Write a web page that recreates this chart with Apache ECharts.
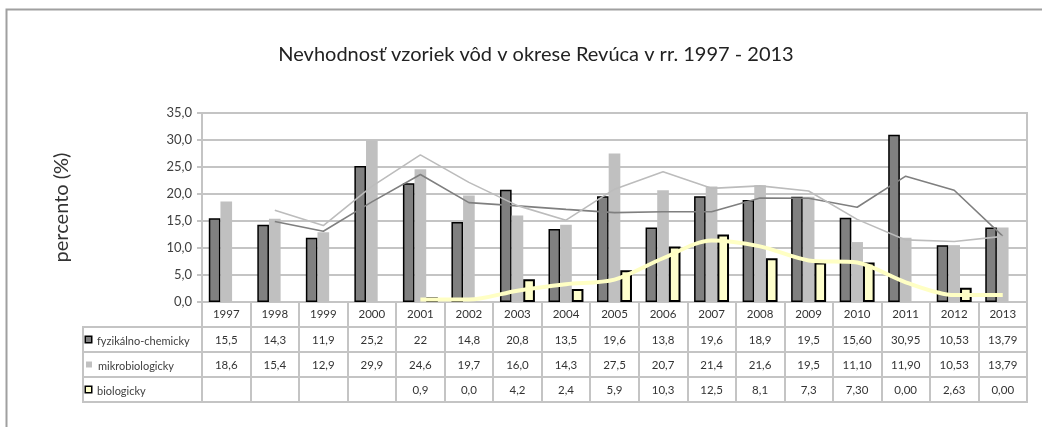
<!DOCTYPE html>
<html lang="sk">
<head>
    <meta charset="UTF-8">
    <title>Nevhodnosť vzoriek vôd</title>
    <script src="https://cdn.jsdelivr.net/npm/echarts@6/dist/echarts.min.js"></script>
    <style>
        html, body { margin: 0; padding: 0; background: #fff; }
        #chart { width: 1042px; height: 427px; }
    </style>
</head>
<body>
<div id="chart"></div>
<script>
    var years = ['1997', '1998', '1999', '2000', '2001', '2002', '2003', '2004', '2005',
        '2006', '2007', '2008', '2009', '2010', '2011', '2012', '2013'];
    var rowNames = ['fyzikálno-chemicky', 'mikrobiologicky', 'biologicky'];

    // hodnoty stlpcov
    var fyzData = [15.5, 14.3, 11.9, 25.2, 22, 14.8, 20.8, 13.5, 19.6, 13.8, 19.6, 18.9, 19.5, 15.6, 30.95, 10.53, 13.79];
    var mikroData = [18.6, 15.4, 12.9, 29.9, 24.6, 19.7, 16.0, 14.3, 27.5, 20.7, 21.4, 21.6, 19.5, 11.1, 11.9, 10.53, 13.79];
    var bioData = [null, null, null, null, 0.9, 0.0, 4.2, 2.4, 5.9, 10.3, 12.5, 8.1, 7.3, 7.3, 0.0, 2.63, 0.0];

    // trendove ciary (klzavy priemer), odcitane z grafu
    var fyzTrend = [null, 14.9, 13.1, 18.55, 23.6, 18.4, 17.8, 17.15, 16.55, 16.7, 16.7, 19.25, 19.2, 17.55, 23.3, 20.7, 12.2];
    var mikroTrend = [null, 17.0, 14.15, 21.4, 27.25, 22.15, 17.85, 15.15, 20.9, 24.1, 21.05, 21.5, 20.55, 15.3, 11.5, 11.2, 12.15];
    var bioTrend = [null, null, null, null, 0.45, 0.45, 2.1, 3.3, 4.15, 8.1, 11.4, 10.3, 7.7, 7.3, 3.65, 1.3, 1.3];

    // texty tabulky
    var fyzText = ['15,5', '14,3', '11,9', '25,2', '22', '14,8', '20,8', '13,5', '19,6', '13,8', '19,6', '18,9', '19,5', '15,60', '30,95', '10,53', '13,79'];
    var mikroText = ['18,6', '15,4', '12,9', '29,9', '24,6', '19,7', '16,0', '14,3', '27,5', '20,7', '21,4', '21,6', '19,5', '11,10', '11,90', '10,53', '13,79'];
    var bioText = ['', '', '', '', '0,9', '0,0', '4,2', '2,4', '5,9', '10,3', '12,5', '8,1', '7,3', '7,30', '0,00', '2,63', '0,00'];

    var font = 'Lato, "Noto Sans", sans-serif';
    var gridColor = '#c4c4c4';

    var tableRows = [years, fyzText, mikroText, bioText];
    var cells = [];
    var cellText = [];
    for (var r = 0; r < tableRows.length; r++) {
        for (var c = 0; c < years.length; c++) {
            cells.push([c, r]);
            cellText.push(tableRows[r][c]);
        }
    }

    // nulove stlpce bez okraja (v povodnom grafe nie su vidiet)
    var bioItems = bioData.map(function (v) {
        return v === 0 ? { value: v, itemStyle: { borderWidth: 0 } } : v;
    });

    var myChart = echarts.init(document.getElementById('chart'));
    var option = {
        animation: false,
        title: {
            text: 'Nevhodnosť vzoriek vôd v okrese Revúca v rr. 1997 - 2013',
            left: 531,
            top: 40,
            textAlign: 'center',
            textStyle: { fontFamily: font, fontSize: 20, fontWeight: 'normal', color: '#222' }
        },
        graphic: [{
            type: 'rect',
            silent: true,
            shape: { x: 6.5, y: 9.5, width: 1200, height: 600 },
            style: { fill: 'none', stroke: '#a0a0a0', lineWidth: 2 }
        }],
        grid: [
            { left: 202, right: 15, top: 113, height: 189, show: true, borderColor: gridColor, borderWidth: 2 },
            { left: 202, right: 15, top: 302, height: 100, show: true, borderColor: gridColor, borderWidth: 2 },
            { left: 83, width: 119, top: 327, height: 75, show: true, borderColor: gridColor, borderWidth: 2 }
        ],
        xAxis: [
            {
                gridIndex: 0, type: 'category', data: years,
                axisLine: { lineStyle: { color: gridColor, width: 2 } },
                axisTick: { show: false }, axisLabel: { show: false }
            },
            {
                gridIndex: 1, type: 'category', data: years,
                axisLine: { show: false }, axisTick: { show: false }, axisLabel: { show: false },
                splitLine: { show: true, interval: 0, lineStyle: { color: gridColor, width: 2 } }
            },
            {
                gridIndex: 2, type: 'category', data: [''],
                axisLine: { show: false }, axisTick: { show: false }, axisLabel: { show: false }
            }
        ],
        yAxis: [
            {
                gridIndex: 0, type: 'value', min: 0, max: 35, interval: 5,
                name: 'percento (%)', nameLocation: 'middle', nameRotate: 90, nameGap: 130,
                nameTextStyle: { fontFamily: font, fontSize: 20, color: '#333' },
                axisLine: { show: true, lineStyle: { color: gridColor, width: 2 } },
                axisTick: { show: true, length: 5, lineStyle: { color: gridColor, width: 2 } },
                axisLabel: {
                    margin: 10, fontFamily: font, fontSize: 13, color: '#404040',
                    formatter: function (v) { return v.toFixed(1).replace('.', ','); }
                },
                splitLine: { lineStyle: { color: gridColor, width: 2 } }
            },
            {
                gridIndex: 1, type: 'category', inverse: true, data: ['r', 'f', 'm', 'b'],
                axisLine: { show: false }, axisTick: { show: false }, axisLabel: { show: false },
                splitLine: { show: true, interval: 0, lineStyle: { color: gridColor, width: 2 } }
            },
            {
                gridIndex: 2, type: 'category', inverse: true, data: rowNames,
                axisLine: { show: false }, axisTick: { show: false },
                splitLine: { show: true, interval: 0, lineStyle: { color: gridColor, width: 2 } },
                axisLabel: {
                    inside: true, margin: 3, interval: 0,
                    formatter: function (v, i) { return '{i' + i + '|}{t|' + v + '}'; },
                    rich: {
                        i0: { width: 5, height: 5, backgroundColor: '#808080', borderColor: '#000', borderWidth: 1.5 },
                        i1: { width: 6, height: 6, backgroundColor: '#c0c0c0' },
                        i2: { width: 5, height: 5, backgroundColor: '#ffffcc', borderColor: '#000', borderWidth: 1.5 },
                        t: { fontFamily: font, fontSize: 11, color: '#404040', padding: [3, 0, 0, 6] }
                    }
                }
            }
        ],
        series: [
            {
                name: rowNames[0], type: 'bar', data: fyzData, barGap: '0%', barCategoryGap: '28%',
                itemStyle: { color: '#808080', borderColor: '#000', borderWidth: 1.5 }
            },
            {
                name: rowNames[1], type: 'bar', data: mikroData, barGap: '0%', barCategoryGap: '28%',
                itemStyle: { color: '#c0c0c0' }
            },
            {
                name: rowNames[2], type: 'bar', data: bioItems, barGap: '0%', barCategoryGap: '28%',
                itemStyle: { color: '#ffffcc', borderColor: '#000', borderWidth: 2 }
            },
            {
                type: 'line', data: fyzTrend, showSymbol: false, z: 5,
                lineStyle: { color: '#7f7f7f', width: 1.6 }
            },
            {
                type: 'line', data: mikroTrend, showSymbol: false, z: 5,
                lineStyle: { color: '#bcbcbc', width: 1.6 }
            },
            {
                type: 'line', data: bioTrend, showSymbol: false, smooth: 0.3, z: 6,
                lineStyle: { color: '#ffffc4', width: 4 }
            },
            {
                type: 'custom', xAxisIndex: 1, yAxisIndex: 1, data: cells, silent: true,
                renderItem: function (params, api) {
                    var p = api.coord([api.value(0), api.value(1)]);
                    var row = api.value(1);
                    return {
                        type: 'text',
                        style: {
                            text: cellText[params.dataIndex],
                            x: p[0], y: p[1] + (row === 0 ? 0 : 1),
                            align: 'center', verticalAlign: 'middle',
                            fontFamily: font, fontSize: 11.5, fill: '#333'
                        }
                    };
                }
            }
        ]
    };
    myChart.setOption(option);
</script>
</body>
</html>
